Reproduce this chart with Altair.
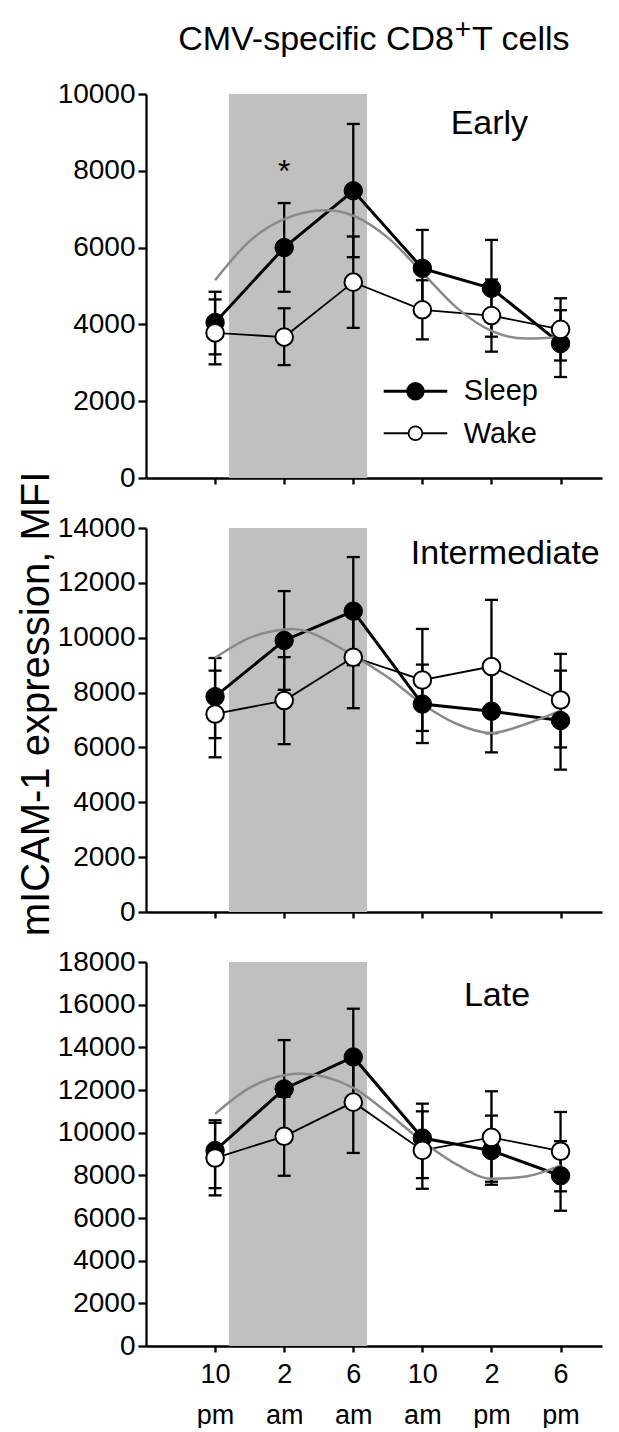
import json
import altair as alt
import pandas as pd

FONT = "Liberation Sans"
W, H = 456, 384

# ---------------- data ----------------
time_idx = [0, 1, 2, 3, 4, 5]
tick_lines = [["10", "pm"], ["2", "am"], ["6", "am"], ["10", "am"], ["2", "pm"], ["6", "pm"]]
x_domain = [-1, 5.6]
night = [0.2, 2.2]

panel_names = ["Early", "Intermediate", "Late"]
y_tops = [10000, 14000, 18000]
label_x = [3.97, 4.2, 4.08]
label_y = [8970, 12695, 15935]

sleep_mean = [
    [4050, 6000, 7480, 5460, 4940, 3500],
    [7850, 9900, 10970, 7580, 7320, 6980],
    [9160, 12050, 13550, 9750, 9160, 7980],
]
sleep_hi = [
    [4850, 7160, 9220, 6460, 6200, 4370],
    [9260, 11700, 12940, 9020, 8820, 8800],
    [10580, 14340, 15810, 11360, 10800, 9600],
]
sleep_lo = [
    [3220, 4850, 5750, 4460, 3680, 2630],
    [6340, 8100, 9000, 6160, 5820, 5190],
    [7400, 9760, 11300, 7870, 7560, 6340],
]
wake_mean = [
    [3780, 3670, 5100, 4380, 4230, 3870],
    [7220, 7710, 9290, 8460, 8950, 7730],
    [8810, 9830, 11430, 9170, 9780, 9130],
]
wake_hi = [
    [4650, 4420, 6290, 5150, 5170, 4680],
    [8800, 9290, 11150, 10320, 11380, 9410],
    [10460, 11680, 13500, 11000, 11940, 10970],
]
wake_lo = [
    [2960, 2940, 3910, 3610, 3290, 3060],
    [5640, 6120, 7430, 6600, 6520, 6000],
    [7060, 7980, 9050, 7370, 7700, 7250],
]

# gray fitted rhythm curves
fit_x = [
    [0, 0.5, 1, 1.6, 2, 2.5, 3, 3.5, 4, 4.5, 5],
    [0, 0.5, 1, 1.11, 2, 2.5, 3, 3.5, 4, 4.5, 5],
    [0, 0.5, 1, 1.21, 2, 2.5, 3, 3.5, 4, 4.5, 5],
]
fit_y = [
    [5150, 6170, 6740, 6970, 6830, 6260, 5350, 4430, 3830, 3630, 3670],
    [9265, 9995, 10300, 10320, 9350, 8560, 7585, 6855, 6525, 6855, 7340],
    [10880, 12100, 12690, 12770, 12100, 10925, 9595, 8500, 7840, 7950, 8470],
]

legend_series = ["Sleep", "Wake"]
legend_line_x = [2.44, 3.36]
legend_marker_x = 2.9
legend_text_x = 3.6
legend_marker_y = [2260, 1166]
legend_text_y = [2027, 900]

star_x, star_y = 1, 7700

title_left = "CMV-specific CD8"
title_sup = "+"
title_right = "T cells"
y_title = "mICAM-1 expression, MFI"


def panel(i):
    ymax = y_tops[i]
    show_labels = i == 2
    xs = alt.Scale(domain=x_domain, nice=False, zero=False)
    ys = alt.Scale(domain=[0, ymax], nice=False, zero=False)
    x_axis = alt.Axis(
        values=time_idx, tickSize=6, tickWidth=2.3, tickColor="black",
        domainColor="black", domainWidth=2.3, grid=False, title=None,
        labels=show_labels, labelExpr=f"{json.dumps(tick_lines)}[datum.value]",
        labelFont=FONT, labelFontSize=27, labelColor="black",
        labelLineHeight=41, labelPadding=9, labelBaseline="top",
    )
    y_axis = alt.Axis(
        values=list(range(0, ymax + 1, 2000)), format="d", tickSize=8,
        tickWidth=2.3, tickColor="black", domainColor="black", domainWidth=2.3,
        grid=False, title=None, labelFont=FONT, labelFontSize=28,
        labelColor="black", labelPadding=3,
    )

    def X(f):
        return alt.X(f, scale=xs, axis=x_axis)

    def Y(f):
        return alt.Y(f, scale=ys, axis=y_axis)

    shade_df = pd.DataFrame({"x0": [night[0]], "x1": [night[1]], "y0": [0], "y1": [ymax]})
    pts = pd.DataFrame({
        "t": time_idx * 2,
        "s": ["Sleep"] * 6 + ["Wake"] * 6,
        "m": sleep_mean[i] + wake_mean[i],
        "lo": sleep_lo[i] + wake_lo[i],
        "hi": sleep_hi[i] + wake_hi[i],
    })
    caps = pd.DataFrame({
        "t": time_idx * 4,
        "v": sleep_lo[i] + sleep_hi[i] + wake_lo[i] + wake_hi[i],
    })
    fit = pd.DataFrame({"fx": fit_x[i], "fy": fit_y[i]})
    sleep = pts[pts.s == "Sleep"]
    wake = pts[pts.s == "Wake"]

    layers = [
        alt.Chart(shade_df).mark_rect(color="#c0c0c0").encode(
            x=X("x0:Q"), x2="x1:Q", y=Y("y0:Q"), y2="y1:Q"),
        alt.Chart(pts).mark_rule(color="black", strokeWidth=2.3).encode(
            x=X("t:Q"), y=Y("lo:Q"), y2="hi:Q"),
        alt.Chart(caps).mark_tick(orient="horizontal", size=13, thickness=2.3,
                                  color="black", opacity=1).encode(
            x=X("t:Q"), y=Y("v:Q")),
        alt.Chart(wake).mark_line(color="black", strokeWidth=1.8).encode(
            x=X("t:Q"), y=Y("m:Q")),
        alt.Chart(sleep).mark_line(color="black", strokeWidth=3).encode(
            x=X("t:Q"), y=Y("m:Q")),
        alt.Chart(fit).mark_line(color="#8a8a8a", strokeWidth=2.5,
                                 interpolate="monotone").encode(
            x=X("fx:Q"), y=Y("fy:Q")),
        alt.Chart(sleep).mark_point(shape="circle", filled=True, fill="black",
                                    stroke="black", strokeWidth=1, size=340,
                                    opacity=1).encode(x=X("t:Q"), y=Y("m:Q")),
        alt.Chart(wake).mark_point(shape="circle", filled=True, fill="white",
                                   stroke="black", strokeWidth=2, size=310,
                                   opacity=1).encode(x=X("t:Q"), y=Y("m:Q")),
        alt.Chart(pd.DataFrame({"x": [label_x[i]], "y": [label_y[i]],
                                "t": [panel_names[i]]})).mark_text(
            font=FONT, fontSize=34, align="center", baseline="alphabetic",
            color="black").encode(x=X("x:Q"), y=Y("y:Q"), text="t:N"),
    ]

    if i == 0:
        leg = pd.DataFrame({"s": legend_series, "x0": [legend_line_x[0]] * 2,
                            "x1": [legend_line_x[1]] * 2, "xm": [legend_marker_x] * 2,
                            "xt": [legend_text_x] * 2, "ym": legend_marker_y,
                            "yt": legend_text_y})
        ls = leg[leg.s == "Sleep"]
        lw = leg[leg.s == "Wake"]
        layers += [
            alt.Chart(ls).mark_rule(color="black", strokeWidth=3).encode(
                x=X("x0:Q"), x2="x1:Q", y=Y("ym:Q")),
            alt.Chart(lw).mark_rule(color="black", strokeWidth=1.8).encode(
                x=X("x0:Q"), x2="x1:Q", y=Y("ym:Q")),
            alt.Chart(ls).mark_point(shape="circle", filled=True, fill="black",
                                     stroke="black", size=270, opacity=1).encode(
                x=X("xm:Q"), y=Y("ym:Q")),
            alt.Chart(lw).mark_point(shape="circle", filled=True, fill="white",
                                     stroke="black", strokeWidth=1.8, size=190,
                                     opacity=1).encode(
                x=X("xm:Q"), y=Y("ym:Q")),
            alt.Chart(leg).mark_text(font=FONT, fontSize=29, align="left",
                                     baseline="alphabetic", color="black").encode(
                x=X("xt:Q"), y=Y("yt:Q"), text="s:N"),
            alt.Chart(pd.DataFrame({"x": [star_x], "y": [star_y], "t": ["*"]})).mark_text(
                font=FONT, fontSize=32, align="center", baseline="alphabetic",
                color="black").encode(x=X("x:Q"), y=Y("y:Q"), text="t:N"),
            alt.Chart(pd.DataFrame({"t": [title_left]})).mark_text(
                font=FONT, fontSize=34, align="right", baseline="alphabetic",
                color="black").encode(x=alt.value(308), y=alt.value(-44), text="t:N"),
            alt.Chart(pd.DataFrame({"t": [title_sup]})).mark_text(
                font=FONT, fontSize=28, align="center", baseline="alphabetic",
                color="black").encode(x=alt.value(317), y=alt.value(-56), text="t:N"),
            alt.Chart(pd.DataFrame({"t": [title_right]})).mark_text(
                font=FONT, fontSize=34, align="left", baseline="alphabetic",
                color="black").encode(x=alt.value(326), y=alt.value(-44), text="t:N"),
        ]
    if i == 1:
        layers.append(
            alt.Chart(pd.DataFrame({"t": [y_title]})).mark_text(
                font=FONT, fontSize=40, align="center", baseline="alphabetic",
                angle=270, color="black").encode(
                x=alt.value(-97), y=alt.value(176), text="t:N"))

    return alt.layer(*layers).properties(width=W, height=H)


chart = alt.vconcat(panel(0), panel(1), panel(2), spacing=50, bounds="flush").properties(
    padding={"left": 8, "top": 8, "right": 5, "bottom": 0}
).configure_view(stroke=None)

chart.save("out.html", embed_options={"renderer": "svg", "actions": False})
